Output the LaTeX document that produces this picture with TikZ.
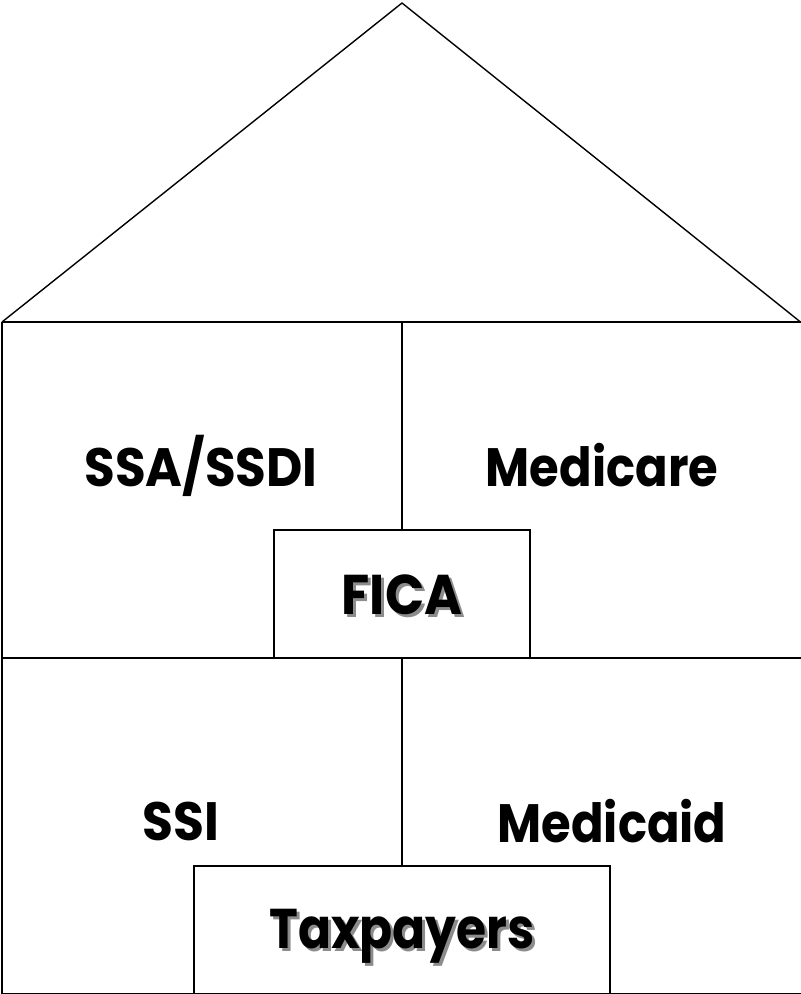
\documentclass[tikz,border=0pt]{standalone}
\usepackage{fontspec}
\usepackage{graphicx}
\setmainfont{Poppins}
\begin{document}
\begin{tikzpicture}[x=1pt,y=-1pt,
  wall/.style={draw=black,line width=1.8pt},
  label/.style={anchor=base,inner sep=0pt,font=\fontsize{54}{60}\selectfont\bfseries},
  shadowed/.style={anchor=base,inner sep=0pt,font=\fontsize{56}{60}\selectfont\bfseries},
  shade/.style={shadowed,text=black!45}]
\useasboundingbox (0,0) rectangle (801,994);
% house
\coordinate (bl) at (2,993.5);
\coordinate (tl) at (2,322);
\coordinate (tr) at (800.5,322);
\coordinate (br) at (800.5,993.5);
\coordinate (apex) at (402,3);
\coordinate (ml) at (2,658);
\coordinate (mr) at (801,658);
\draw[wall,line width=1.4pt] (tl) -- (apex) -- (tr);
\draw[wall] (tl) -- (tr);
\draw[wall] (tl) -- (bl) -- (br);
\draw[wall] (ml) -- (mr);
% boxes
\node[wall,minimum width=256,minimum height=128,inner sep=0pt] (fica) at (402,594) {};
\node[wall,minimum width=416,minimum height=128,inner sep=0pt] (tax) at (402,930) {};
\coordinate (topmid) at (402,322);
\coordinate (midmid) at (402,658);
\draw[wall] (topmid) -- (fica.north);
\draw[wall] (midmid) -- (tax.north);
% labels
\node[label] (ssa) at (201,486) {\scalebox{0.925}[1]{SSA/SSDI}};
\node[label] (medicare) at (602,486) {\scalebox{0.89}[1]{Medicare}};
\node[label] (ssi) at (181,840) {\scalebox{0.93}[1]{SSI}};
\node[label] (medicaid) at (612,842) {\scalebox{0.89}[1]{Medicaid}};
\node[shade] (ficas) at (405,617) {\scalebox{0.92}[1]{FICA}};
\node[shade] (taxs) at (405,951) {\scalebox{0.87}[1]{Taxpayers}};
\node[shadowed] (ficat) at (402,614) {\scalebox{0.92}[1]{FICA}};
\node[shadowed] (taxt) at (402,948) {\scalebox{0.87}[1]{Taxpayers}};
\end{tikzpicture}
\end{document}
